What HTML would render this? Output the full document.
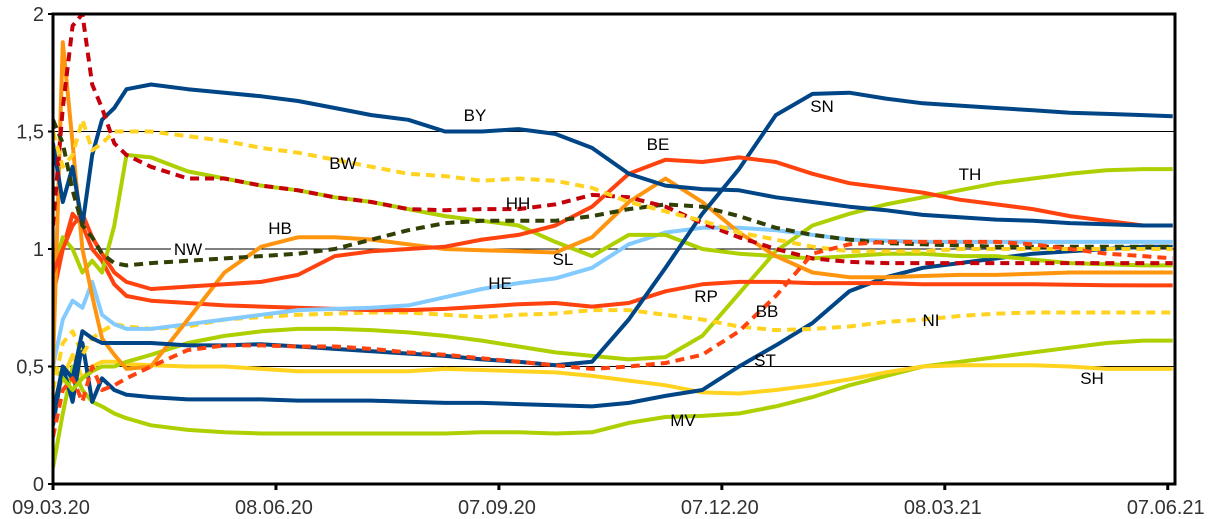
<!DOCTYPE html>
<html><head><meta charset="utf-8"><style>
html,body{margin:0;padding:0;background:#fff;}
svg{display:block;font-family:"Liberation Sans",sans-serif;}
</style></head><body>
<svg id="chart" width="1215" height="519">
<defs><clipPath id="plotclip"><rect x="53" y="14" width="1122" height="470"/></clipPath></defs>
<g id="grid"></g>
<g id="series" clip-path="url(#plotclip)"></g>
<g id="labels"></g>
<g id="axes"></g>
</svg>
<script>
const days = [0,4,8,12,16,20,25,30,40,55,70,85,100,115,130,145,160,175,190,205,220,235,250,265,280,295,310,325,340,355,370,385,400,415,430,445,457];
const yTicks = [0,0.5,1,1.5,2];
const yTickLabels = ["0","0,5","1","1,5","2"];
const xTickDays = [0,91,182,273,364,455];
const xTickLabels = ["09.03.20","08.06.20","07.09.20","07.12.20","08.03.21","07.06.21"];

const BY = [1.45,1.2,1.35,1.1,1.4,1.55,1.6,1.68,1.7,1.68,1.665,1.65,1.63,1.6,1.57,1.55,1.5,1.5,1.51,1.49,1.43,1.32,1.27,1.255,1.25,1.22,1.2,1.18,1.165,1.145,1.135,1.125,1.12,1.11,1.105,1.1,1.1];
const SN = [0.3,0.5,0.45,0.65,0.62,0.6,0.6,0.6,0.6,0.59,0.59,0.595,0.585,0.575,0.565,0.555,0.545,0.53,0.52,0.505,0.52,0.7,0.92,1.15,1.34,1.57,1.66,1.665,1.64,1.62,1.61,1.6,1.59,1.58,1.575,1.57,1.565];
const BE = [0.9,1.0,1.1,1.15,1.05,0.98,0.9,0.86,0.83,0.84,0.85,0.86,0.89,0.97,0.99,1.0,1.01,1.04,1.06,1.1,1.18,1.32,1.38,1.37,1.39,1.37,1.32,1.28,1.26,1.24,1.21,1.19,1.17,1.14,1.12,1.1,1.1];
const RP = [0.8,1.0,1.15,1.1,1.0,0.95,0.85,0.8,0.78,0.77,0.76,0.755,0.75,0.745,0.74,0.74,0.745,0.755,0.765,0.77,0.755,0.77,0.82,0.85,0.86,0.86,0.855,0.855,0.855,0.85,0.85,0.85,0.85,0.848,0.846,0.845,0.845];
const TH = [0.5,0.45,0.4,0.45,0.48,0.5,0.5,0.52,0.55,0.6,0.63,0.65,0.66,0.66,0.655,0.645,0.63,0.61,0.585,0.56,0.545,0.53,0.54,0.63,0.81,0.99,1.1,1.15,1.19,1.22,1.25,1.28,1.3,1.32,1.335,1.34,1.34];
const SL = [0.9,1.05,1.0,0.9,0.95,0.9,1.1,1.4,1.39,1.33,1.3,1.27,1.25,1.22,1.2,1.17,1.14,1.12,1.1,1.03,0.97,1.06,1.06,1.0,0.98,0.97,0.96,0.97,0.98,0.98,0.97,0.97,0.955,0.94,0.935,0.93,0.93];
const MV = [0.07,0.3,0.5,0.4,0.35,0.33,0.3,0.28,0.25,0.23,0.22,0.215,0.215,0.215,0.215,0.215,0.215,0.22,0.22,0.215,0.22,0.26,0.285,0.29,0.3,0.33,0.37,0.42,0.46,0.5,0.52,0.54,0.56,0.58,0.6,0.61,0.61];
const ST = [0.25,0.5,0.35,0.6,0.35,0.45,0.4,0.38,0.37,0.36,0.36,0.36,0.355,0.355,0.355,0.35,0.345,0.345,0.34,0.335,0.33,0.345,0.375,0.4,0.5,0.59,0.685,0.82,0.88,0.92,0.94,0.96,0.98,0.99,1.0,1.01,1.01];
const SH = [0.35,0.45,0.55,0.45,0.5,0.52,0.52,0.51,0.505,0.5,0.5,0.49,0.48,0.48,0.48,0.48,0.49,0.485,0.48,0.475,0.46,0.44,0.42,0.39,0.385,0.4,0.42,0.445,0.475,0.5,0.505,0.505,0.505,0.5,0.49,0.49,0.49];
const HE = [0.5,0.7,0.78,0.75,0.86,0.72,0.68,0.66,0.66,0.68,0.7,0.72,0.74,0.745,0.75,0.76,0.795,0.83,0.855,0.875,0.92,1.02,1.07,1.09,1.09,1.08,1.06,1.04,1.035,1.03,1.03,1.03,1.03,1.03,1.03,1.03,1.03];
const HB = [0.5,1.88,1.45,1.0,0.8,0.62,0.55,0.49,0.5,0.7,0.9,1.01,1.05,1.05,1.04,1.02,1.0,0.995,0.99,0.985,1.05,1.2,1.3,1.2,1.07,0.97,0.9,0.88,0.88,0.885,0.89,0.89,0.895,0.9,0.9,0.9,0.9];
const NW = [1.55,1.45,1.25,1.1,1.05,0.98,0.94,0.93,0.94,0.95,0.96,0.97,0.98,1.0,1.04,1.08,1.11,1.12,1.12,1.12,1.14,1.17,1.19,1.18,1.14,1.09,1.06,1.04,1.025,1.02,1.015,1.01,1.01,1.01,1.01,1.01,1.01];
const HH = [1.1,1.6,1.95,2.0,1.7,1.6,1.45,1.4,1.35,1.3,1.3,1.27,1.25,1.22,1.2,1.17,1.165,1.17,1.17,1.19,1.23,1.22,1.18,1.11,1.05,1.0,0.96,0.945,0.94,0.94,0.94,0.94,0.94,0.94,0.94,0.94,0.94];
const BW = [1.5,1.35,1.4,1.55,1.42,1.45,1.5,1.5,1.5,1.48,1.46,1.43,1.41,1.38,1.35,1.32,1.31,1.29,1.3,1.29,1.26,1.2,1.16,1.12,1.07,1.04,1.01,0.99,0.99,0.99,1.0,1.0,1.0,1.0,1.0,1.0,1.0];
const NI = [0.4,0.6,0.65,0.55,0.62,0.65,0.68,0.67,0.66,0.67,0.7,0.71,0.72,0.725,0.73,0.73,0.72,0.71,0.72,0.725,0.74,0.74,0.72,0.7,0.67,0.655,0.66,0.67,0.69,0.7,0.715,0.725,0.73,0.73,0.73,0.73,0.73];
const BB = [0.2,0.4,0.45,0.35,0.5,0.4,0.42,0.45,0.5,0.57,0.59,0.59,0.585,0.585,0.575,0.56,0.55,0.535,0.52,0.505,0.49,0.5,0.515,0.55,0.65,0.8,0.98,1.02,1.03,1.03,1.03,1.03,1.02,1.0,0.98,0.97,0.96];

const seriesList = [
 {id:"MV",v:MV,c:"#aecf00",d:false,lx:683,ly:420},
 {id:"SH",v:SH,c:"#ffd320",d:false,lx:1092,ly:378},
 {id:"ST",v:ST,c:"#004586",d:false,lx:765,ly:360},
 {id:"TH",v:TH,c:"#aecf00",d:false,lx:970,ly:174},
 {id:"NI",v:NI,c:"#ffd320",d:true,lx:931,ly:320},
 {id:"RP",v:RP,c:"#ff420e",d:false,lx:706,ly:296},
 {id:"HE",v:HE,c:"#83caff",d:false,lx:500,ly:283},
 {id:"SL",v:SL,c:"#aecf00",d:false,lx:563,ly:259},
 {id:"HB",v:HB,c:"#ff950e",d:false,lx:280,ly:228},
 {id:"SN",v:SN,c:"#004586",d:false,lx:822,ly:106},
 {id:"BE",v:BE,c:"#ff420e",d:false,lx:658,ly:144},
 {id:"BY",v:BY,c:"#004586",d:false,lx:475,ly:115},
 {id:"NW",v:NW,c:"#314004",d:true,lx:188,ly:249},
 {id:"HH",v:HH,c:"#c5000b",d:true,lx:518,ly:203},
 {id:"BW",v:BW,c:"#ffd320",d:true,lx:343,ly:163},
 {id:"BB",v:BB,c:"#ff420e",d:true,lx:767,ly:311}
];

const X0=53, PXD=2.45, Y0=484, PXV=235;
function xs(d){return X0+PXD*d;}
function ys(v){return Y0-PXV*v;}
const NS="http://www.w3.org/2000/svg";
function mk(tag,attrs,parent){const e=document.createElementNS(NS,tag);for(const k in attrs)e.setAttribute(k,attrs[k]);parent.appendChild(e);return e;}

const grid=document.getElementById('grid');
yTicks.forEach((t,i)=>{
  if(t>0&&t<2){
    const l=mk('line',{x1:X0,x2:1175,y1:ys(t),y2:ys(t),stroke:'#000','stroke-width':1},grid);
    
    
  }
});

const sg=document.getElementById('series');
seriesList.forEach(s=>{
  const pts=s.v.map((v,i)=>xs(days[i]).toFixed(1)+','+ys(v).toFixed(1)).join(' ');
  const a={points:pts,fill:'none',stroke:s.c,'stroke-width':4,'stroke-linejoin':'round'};
  if(s.d){a['stroke-dasharray']='9,6';}
  const p=mk('polyline',a,sg);
  
  
});

const lg=document.getElementById('labels');
seriesList.forEach(s=>{
  if(s.id==="NW"){
    const r=mk('rect',{x:s.lx-17,y:s.ly-9,width:34,height:18,fill:'#fff'},lg);
    
    
  }
  const t=mk('text',{x:s.lx,y:s.ly+6,'text-anchor':'middle','font-size':17,fill:'#000'},lg);
  t.textContent=s.id;
  
  
});

const ax=document.getElementById('axes');
const fr=mk('rect',{x:X0,y:14,width:1122,height:470,fill:'none',stroke:'#000','stroke-width':3},ax);


yTicks.forEach((t,i)=>{
  const tk=mk('line',{x1:X0-5,x2:X0,y1:ys(t),y2:ys(t),stroke:'#000','stroke-width':2},ax);
  
  
  const tx=mk('text',{x:44,y:ys(t)+7,'text-anchor':'end','font-size':20,fill:'#333'},ax);
  tx.textContent=yTickLabels[i];
  
  
});
xTickDays.forEach((d,i)=>{
  const tk=mk('line',{x1:xs(d),x2:xs(d),y1:484,y2:490,stroke:'#000','stroke-width':3},ax);
  
  
  const tx=mk('text',{x:xs(d)-2,y:514,'text-anchor':'middle','font-size':20,fill:'#333'},ax);
  tx.textContent=xTickLabels[i];
  
  
});
</script>
</body></html>
